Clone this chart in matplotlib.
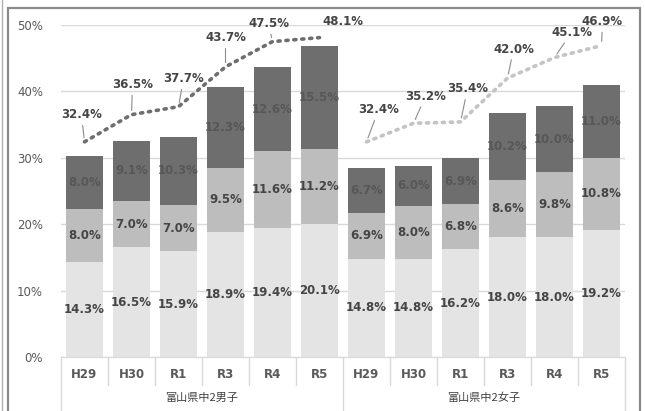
import matplotlib.pyplot as plt
import matplotlib.patches as mpatches

plt.rcParams['font.family'] = ['DejaVu Sans', 'Noto Sans CJK JP']

# data ------------------------------------------------------------------------
years = ["H29", "H30", "R1", "R3", "R4", "R5"]
groups = ["富山県中2男子", "富山県中2女子"]

boys_low = [14.3, 16.5, 15.9, 18.9, 19.4, 20.1]
boys_mid = [8.0, 7.0, 7.0, 9.5, 11.6, 11.2]
boys_high = [8.0, 9.1, 10.3, 12.3, 12.6, 15.5]
boys_line = [32.4, 36.5, 37.7, 43.7, 47.5, 48.1]

girls_low = [14.8, 14.8, 16.2, 18.0, 18.0, 19.2]
girls_mid = [6.9, 8.0, 6.8, 8.6, 9.8, 10.8]
girls_high = [6.7, 6.0, 6.9, 10.2, 10.0, 11.0]
girls_line = [32.4, 35.2, 35.4, 42.0, 45.1, 46.9]

# label offsets (pixels) for the line labels, and whether a leader is drawn
boys_off = [(-3, 27), (1, 30), (5, 28), (0, 29), (-4, 18), (23, 16)]
girls_off = [(12, 32), (12, 27), (7, 33), (6, 29), (17, 25), (1, 24)]
boys_lead = [True, True, True, True, True, False]
girls_lead = [True] * 6

# combine ---------------------------------------------------------------------
low = boys_low + girls_low
mid = boys_mid + girls_mid
high = boys_high + girls_high
labels = years + years
x = list(range(len(labels)))
base2 = [a + b for a, b in zip(low, mid)]

c_low, c_mid, c_high = "#e4e4e4", "#bdbdbd", "#6e6e6e"
txt = "#454545"

fig = plt.figure(figsize=(6.45, 4.11), dpi=100)
ax = fig.add_axes([61 / 645, 1 - 357 / 411, 564 / 645, 332 / 411])

ax.bar(x, low, width=0.8, color=c_low, zorder=2)
ax.bar(x, mid, width=0.8, bottom=low, color=c_mid, zorder=2)
ax.bar(x, high, width=0.8, bottom=base2, color=c_high, zorder=2)

for i in x:
    ax.text(i, low[i] / 2, f"{low[i]:.1f}%", ha="center", va="center",
            fontsize=8.5, fontweight="bold", color=txt, zorder=4)
    ax.text(i, low[i] + mid[i] / 2, f"{mid[i]:.1f}%", ha="center", va="center",
            fontsize=8.5, fontweight="bold", color=txt, zorder=4)
    ax.text(i, base2[i] + high[i] / 2, f"{high[i]:.1f}%", ha="center", va="center",
            fontsize=8.5, fontweight="bold", color="#575757", zorder=4)

# dotted total lines ----------------------------------------------------------
bx = x[:6]
gx = x[6:]
ax.plot(bx, boys_line, color="#6e6e6e", lw=2.6, ls=(0, (0.6, 1.6)),
        dash_capstyle="round", zorder=3, clip_on=False)
ax.plot(gx, girls_line, color="#c4c4c4", lw=2.6, ls=(0, (0.6, 1.6)),
        dash_capstyle="round", zorder=3, clip_on=False)

for xs, ys, offs, leads in [(bx, boys_line, boys_off, boys_lead),
                            (gx, girls_line, girls_off, girls_lead)]:
    for xi, yi, (dx, dy), lead in zip(xs, ys, offs, leads):
        arrow = dict(arrowstyle="-", color="#8c8c8c", lw=0.8,
                     shrinkA=1, shrinkB=3) if lead else None
        ax.annotate(f"{yi:.1f}%", xy=(xi, yi), xytext=(dx, dy),
                    textcoords="offset pixels", ha="center", va="center",
                    fontsize=8.5, fontweight="bold", color=txt,
                    annotation_clip=False, zorder=5, arrowprops=arrow)

# axes ------------------------------------------------------------------------
ax.set_ylim(0, 50)
ax.set_xlim(-0.5, 11.5)
ax.set_yticks(range(0, 51, 10))
ax.set_yticklabels([f"{v}%" for v in range(0, 51, 10)])
ax.grid(axis="y", color="#d9d9d9", lw=1, zorder=0)
for s in ["top", "right", "left"]:
    ax.spines[s].set_visible(False)
ax.spines["bottom"].set_color("#d9d9d9")
ax.tick_params(axis="y", length=0, pad=13, labelsize=8.5, labelcolor="#595959")
ax.tick_params(axis="x", length=0, pad=8, labelsize=8.5, labelcolor="#595959")
ax.set_xticks(x)
ax.set_xticklabels(labels, fontweight="bold")

# category separators
tr = ax.get_xaxis_transform()
for k in range(13):
    xe = k - 0.5
    y1 = -0.16 if k in (0, 6, 12) else -0.085
    ax.plot([xe, xe], [0, y1], color="#d9d9d9", lw=1, transform=tr, clip_on=False)

for gi, g in enumerate(groups):
    ax.text(2.5 + 6 * gi, -0.123, g, transform=tr, ha="center", va="center",
            fontsize=8, color="#404040", family=["Noto Sans CJK JP"])

# outer frame
fig.patches.append(mpatches.Rectangle((8 / 645, -0.01), 632 / 645, 1 - 8 / 411 + 0.01,
                                      transform=fig.transFigure, fill=False,
                                      edgecolor="#8a8a8a", lw=1.6))
fig.lines.append(plt.Line2D([1.5 / 645, 1.5 / 645], [0, 1], transform=fig.transFigure,
                            color="#b0b0b0", lw=1))

fig.savefig("out.png", dpi=100)
